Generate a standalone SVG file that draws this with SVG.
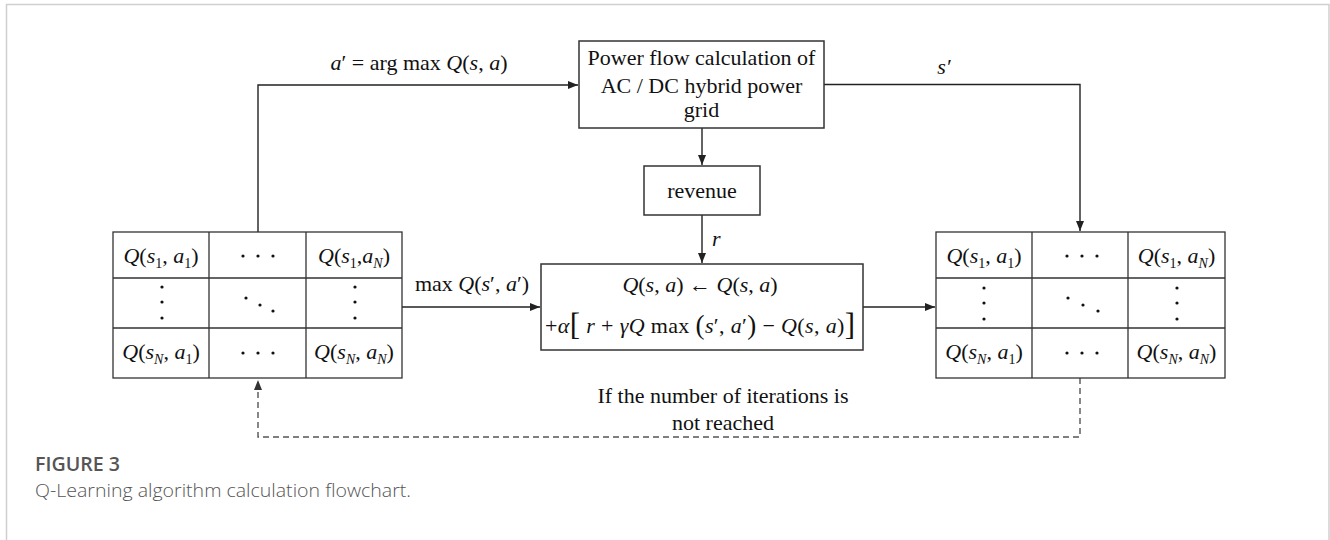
<svg xmlns="http://www.w3.org/2000/svg" width="1330" height="540" viewBox="0 0 1330 540">
<style>
.frame{fill:none;stroke:#cfcfcf;stroke-width:1.5}
.box{fill:#fff;stroke:#333;stroke-width:1.5}
.grid{fill:none;stroke:#333;stroke-width:1.3}
.t{font-family:"Liberation Serif","Times New Roman",serif;font-size:22px;fill:#111}
.i{font-style:italic}
.sub{font-size:14px}
.con{fill:none;stroke:#222;stroke-width:1.4}
.dash{fill:none;stroke:#555;stroke-width:1.4;stroke-dasharray:6 4}
.dot{fill:#111}
.cap1{font-family:"Open Sans",sans-serif;font-weight:600;font-size:19px;fill:#555}
.cap2{font-family:"Open Sans",sans-serif;font-weight:300;font-size:19px;fill:#555}
</style>
<defs>
<marker id="ah" markerWidth="10" markerHeight="8" refX="10" refY="4" orient="auto" markerUnits="userSpaceOnUse"><path d="M0,0 L10,4 L0,8 z" fill="#222"/></marker>
<marker id="ahg" markerWidth="10" markerHeight="8" refX="10" refY="4" orient="auto" markerUnits="userSpaceOnUse"><path d="M0,0 L10,4 L0,8 z" fill="#333"/></marker>
</defs>
<path class="frame" d="M6.5,540 V4.5 H1329 V540"/>

<g id="connectors">
<path class="con" d="M258,232 V85 H578" marker-end="url(#ah)"/>
<path class="con" d="M824,84.5 H1080 V231" marker-end="url(#ah)"/>
<path class="con" d="M702,128 V165" marker-end="url(#ah)"/>
<path class="con" d="M702,215 V263" marker-end="url(#ah)"/>
<path class="con" d="M402,307 H540" marker-end="url(#ah)"/>
<path class="con" d="M863,307 H935" marker-end="url(#ah)"/>
<path class="dash" d="M1080,378 V437 H258 V380" marker-end="url(#ahg)"/>
<text class="t" x="419" y="70" text-anchor="middle"><tspan class="i">a</tspan>′ = arg max <tspan class="i">Q</tspan>(<tspan class="i">s</tspan>, <tspan class="i">a</tspan>)</text>
<text class="t i" x="944" y="74" text-anchor="middle">s′</text>
<text class="t i" x="712" y="246">r</text>
<text class="t" x="472" y="291" text-anchor="middle">max <tspan class="i">Q</tspan>(<tspan class="i">s</tspan>′, <tspan class="i">a</tspan>′)</text>
<text class="t" x="723" y="403" text-anchor="middle">If the number of iterations is</text>
<text class="t" x="723" y="430" text-anchor="middle">not reached</text>
</g>

<g id="power-flow">
<rect class="box" x="579" y="41" width="245" height="87"/>
<text class="t" x="701.5" y="65" text-anchor="middle">Power flow calculation of</text>
<text class="t" x="701.5" y="93" text-anchor="middle">AC / DC hybrid power</text>
<text class="t" x="701.5" y="117" text-anchor="middle">grid</text>
</g>

<g id="revenue">
<rect class="box" x="644" y="166" width="116" height="49"/>
<text class="t" x="702" y="198" text-anchor="middle">revenue</text>
</g>

<g id="update">
<rect class="box" x="541" y="264" width="322" height="86"/>
<text class="t" x="700" y="292" text-anchor="middle" font-size="23"><tspan class="i">Q</tspan>(<tspan class="i">s</tspan>, <tspan class="i">a</tspan>) ← <tspan class="i">Q</tspan>(<tspan class="i">s</tspan>, <tspan class="i">a</tspan>)</text>
<text class="t" x="700" y="333" text-anchor="middle" font-size="23" textLength="310" lengthAdjust="spacing">+<tspan class="i">α</tspan><tspan font-size="31" dy="2">[</tspan><tspan dy="-2"> </tspan><tspan class="i">r</tspan> + <tspan class="i">γQ</tspan> max <tspan font-size="27" dy="1">(</tspan><tspan class="i" dy="-1">s</tspan>′, <tspan class="i">a</tspan>′<tspan font-size="27" dy="1">)</tspan><tspan dy="-1"> − </tspan><tspan class="i">Q</tspan>(<tspan class="i">s</tspan>, <tspan class="i">a</tspan>)<tspan font-size="31" dy="2">]</tspan></text>
</g>

<g id="q-table-left">
<rect class="grid" x="113" y="232" width="289" height="146"/>
<path class="grid" d="M209,232 V378 M306,232 V378 M113,278 H402 M113,328 H402"/>
<text class="t" x="161" y="263" text-anchor="middle"><tspan class="i">Q</tspan>(<tspan class="i">s</tspan><tspan class="sub" dy="5">1</tspan><tspan dy="-5">, </tspan><tspan class="i">a</tspan><tspan class="sub" dy="5">1</tspan><tspan dy="-5">)</tspan></text>
<text class="t" x="354" y="263" text-anchor="middle"><tspan class="i">Q</tspan>(<tspan class="i">s</tspan><tspan class="sub" dy="5">1</tspan><tspan dy="-5">,</tspan><tspan class="i">a</tspan><tspan class="sub i" dy="5">N</tspan><tspan dy="-5">)</tspan></text>
<text class="t" x="161" y="359" text-anchor="middle"><tspan class="i">Q</tspan>(<tspan class="i">s</tspan><tspan class="sub i" dy="5">N</tspan><tspan dy="-5">, </tspan><tspan class="i">a</tspan><tspan class="sub" dy="5">1</tspan><tspan dy="-5">)</tspan></text>
<text class="t" x="354" y="359" text-anchor="middle"><tspan class="i">Q</tspan>(<tspan class="i">s</tspan><tspan class="sub i" dy="5">N</tspan><tspan dy="-5">, </tspan><tspan class="i">a</tspan><tspan class="sub i" dy="5">N</tspan><tspan dy="-5">)</tspan></text>
<g class="dot">
<circle cx="243" cy="256" r="1.6"/><circle cx="258" cy="256" r="1.6"/><circle cx="273" cy="256" r="1.6"/>
<circle cx="243" cy="353" r="1.6"/><circle cx="258" cy="353" r="1.6"/><circle cx="273" cy="353" r="1.6"/>
<circle cx="162" cy="287" r="1.6"/><circle cx="162" cy="302" r="1.6"/><circle cx="162" cy="318" r="1.6"/>
<circle cx="355" cy="287" r="1.6"/><circle cx="355" cy="302" r="1.6"/><circle cx="355" cy="318" r="1.6"/>
<circle cx="246" cy="298" r="1.6"/><circle cx="260" cy="305" r="1.6"/><circle cx="273" cy="311" r="1.6"/>
</g>
</g>

<g id="q-table-right">
<rect class="grid" x="936" y="232" width="289" height="146"/>
<path class="grid" d="M1032,232 V378 M1128,232 V378 M936,278 H1225 M936,328 H1225"/>
<text class="t" x="984" y="263" text-anchor="middle"><tspan class="i">Q</tspan>(<tspan class="i">s</tspan><tspan class="sub" dy="5">1</tspan><tspan dy="-5">, </tspan><tspan class="i">a</tspan><tspan class="sub" dy="5">1</tspan><tspan dy="-5">)</tspan></text>
<text class="t" x="1176.5" y="263" text-anchor="middle"><tspan class="i">Q</tspan>(<tspan class="i">s</tspan><tspan class="sub" dy="5">1</tspan><tspan dy="-5">, </tspan><tspan class="i">a</tspan><tspan class="sub i" dy="5">N</tspan><tspan dy="-5">)</tspan></text>
<text class="t" x="984" y="359" text-anchor="middle"><tspan class="i">Q</tspan>(<tspan class="i">s</tspan><tspan class="sub i" dy="5">N</tspan><tspan dy="-5">, </tspan><tspan class="i">a</tspan><tspan class="sub" dy="5">1</tspan><tspan dy="-5">)</tspan></text>
<text class="t" x="1176.5" y="359" text-anchor="middle"><tspan class="i">Q</tspan>(<tspan class="i">s</tspan><tspan class="sub i" dy="5">N</tspan><tspan dy="-5">, </tspan><tspan class="i">a</tspan><tspan class="sub i" dy="5">N</tspan><tspan dy="-5">)</tspan></text>
<g class="dot">
<circle cx="1067" cy="256" r="1.6"/><circle cx="1082" cy="256" r="1.6"/><circle cx="1097" cy="256" r="1.6"/>
<circle cx="1067" cy="353" r="1.6"/><circle cx="1082" cy="353" r="1.6"/><circle cx="1097" cy="353" r="1.6"/>
<circle cx="984" cy="288" r="1.6"/><circle cx="984" cy="303" r="1.6"/><circle cx="984" cy="319" r="1.6"/>
<circle cx="1177" cy="288" r="1.6"/><circle cx="1177" cy="303" r="1.6"/><circle cx="1177" cy="319" r="1.6"/>
<circle cx="1068" cy="298" r="1.6"/><circle cx="1083" cy="305" r="1.6"/><circle cx="1098" cy="311" r="1.6"/>
</g>
</g>

<g id="caption">
<text class="cap1" x="35" y="471" textLength="85" lengthAdjust="spacingAndGlyphs">FIGURE 3</text>
<text class="cap2" x="35" y="497" textLength="376" lengthAdjust="spacingAndGlyphs">Q-Learning algorithm calculation flowchart.</text>
</g>
</svg>
